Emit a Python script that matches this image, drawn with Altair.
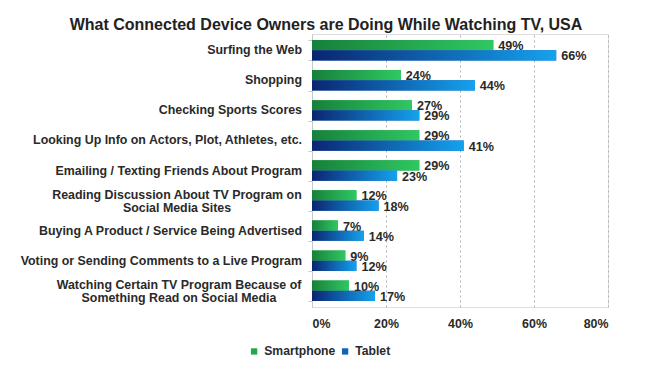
import altair as alt
import pandas as pd

categories = [
    "Surfing the Web",
    "Shopping",
    "Checking Sports Scores",
    "Looking Up Info on Actors, Plot, Athletes, etc.",
    "Emailing / Texting Friends About Program",
    "Reading Discussion About TV Program on|Social Media Sites",
    "Buying A Product / Service Being Advertised",
    "Voting or Sending Comments to a Live Program",
    "Watching Certain TV Program Because of|Something Read on Social Media",
]
smartphone = [49, 24, 27, 29, 29, 12, 7, 9, 10]
tablet = [66, 44, 29, 41, 23, 18, 14, 12, 17]
series = ["Smartphone", "Tablet"]
x_ticks = [0, 20, 40, 60, 80]

rows = []
for c, s, t in zip(categories, smartphone, tablet):
    rows.append({"activity": c, "device": "Smartphone", "value": s})
    rows.append({"activity": c, "device": "Tablet", "value": t})
df = pd.DataFrame(rows)
cat_df = pd.DataFrame({"activity": categories})

FONT = "Liberation Sans"
TXT = "#2a2a2a"

y_enc = alt.Y(
    "activity:N",
    sort=categories,
    scale=alt.Scale(paddingInner=0.32),
    axis=alt.Axis(
        title=None,
        labels=False,
        tickBand="extent",
        tickSize=4,
        tickColor="#c8c8c8",
        domainColor="#c8c8c8",
        grid=False,
    ),
)
x_enc = alt.X(
    "value:Q",
    scale=alt.Scale(domain=[0, 80], nice=False),
    axis=alt.Axis(
        title=None,
        values=x_ticks,
        labelExpr="datum.value + '%'",
        labelFont=FONT,
        labelFontSize=12.4,
        labelFontWeight="bold",
        labelColor=TXT,
        labelPadding=10,
        domain=False,
        ticks=False,
        grid=True,
        gridColor="#b0b0b0",
        gridDash=[2, 3],
        gridWidth=1,
    ),
)
yoff = alt.YOffset("device:N", sort=series)
y_plain = alt.Y("activity:N", sort=categories)

base = alt.Chart(df)

solid = base.mark_bar().encode(
    y=y_enc,
    x=x_enc,
    yOffset=yoff,
    color=alt.Color(
        "device:N",
        sort=series,
        scale=alt.Scale(domain=series, range=["#22a84a", "#1560b8"]),
        legend=alt.Legend(
            title=None,
            orient="none",
            direction="horizontal",
            legendX=-64,
            legendY=311,
            symbolType="square",
            symbolSize=40,
            labelFont=FONT,
            labelFontSize=12.2,
            labelFontWeight="bold",
            labelColor=TXT,
            labelOffset=4,
            columnPadding=3,
            symbolStrokeWidth=0,
        ),
    ),
)

green_grad = alt.Gradient(
    gradient="linear",
    stops=[
        alt.GradientStop(color="#17803a", offset=0),
        alt.GradientStop(color="#2fc862", offset=1),
    ],
    x1=0, x2=1, y1=0, y2=0,
)
blue_grad = alt.Gradient(
    gradient="linear",
    stops=[
        alt.GradientStop(color="#0b2570", offset=0),
        alt.GradientStop(color="#14a2ee", offset=1),
    ],
    x1=0, x2=1, y1=0, y2=0,
)

g_bars = base.transform_filter(alt.datum.device == "Smartphone").mark_bar(color=green_grad).encode(
    y=y_plain, x="value:Q", yOffset=yoff
)
b_bars = base.transform_filter(alt.datum.device == "Tablet").mark_bar(color=blue_grad).encode(
    y=y_plain, x="value:Q", yOffset=yoff
)

labels = base.transform_calculate(lbl="datum.value + '%'").mark_text(
    align="left", baseline="middle", dx=5, dy=1, font=FONT, fontSize=12.6,
    fontWeight="bold", color=TXT,
).encode(
    y=y_plain,
    x="value:Q",
    yOffset=yoff,
    text="lbl:N",
)

cat_base = alt.Chart(cat_df)
lbl_style = dict(baseline="middle", font=FONT, fontSize=12.4, fontWeight="bold", color=TXT)
single_lbl = cat_base.transform_filter("indexof(datum.activity, '|') < 0").mark_text(
    align="right", **lbl_style
).encode(y=y_plain, x=alt.value(-10), text="activity:N")
multi_a = cat_base.transform_filter(alt.datum.activity == categories[5]).mark_text(
    align="center", lineBreak="|", lineHeight=13, dy=-6, **lbl_style
).encode(y=y_plain, x=alt.value(-135), text="activity:N")
multi_b = cat_base.transform_filter(alt.datum.activity == categories[8]).mark_text(
    align="center", lineBreak="|", lineHeight=13, dy=-6, **lbl_style
).encode(y=y_plain, x=alt.value(-133), text="activity:N")

chart = (
    alt.layer(solid, g_bars, b_bars, labels, single_lbl, multi_a, multi_b)
    .properties(
        width=296,
        height=273,
        autosize=alt.AutoSizeParams(type="none"),
        padding={"left": 304, "top": 26, "right": 40, "bottom": 62},
        title=alt.TitleParams(
            "What Connected Device Owners are Doing While Watching TV, USA",
            font=FONT, fontSize=16, fontWeight="bold", color="#222222",
            anchor="middle", dx=-134, offset=1,
        ),
    )
    .configure_view(stroke=None)
    .configure(background="white")
)

chart.save("out.html", embed_options={"renderer": "svg", "actions": False})
